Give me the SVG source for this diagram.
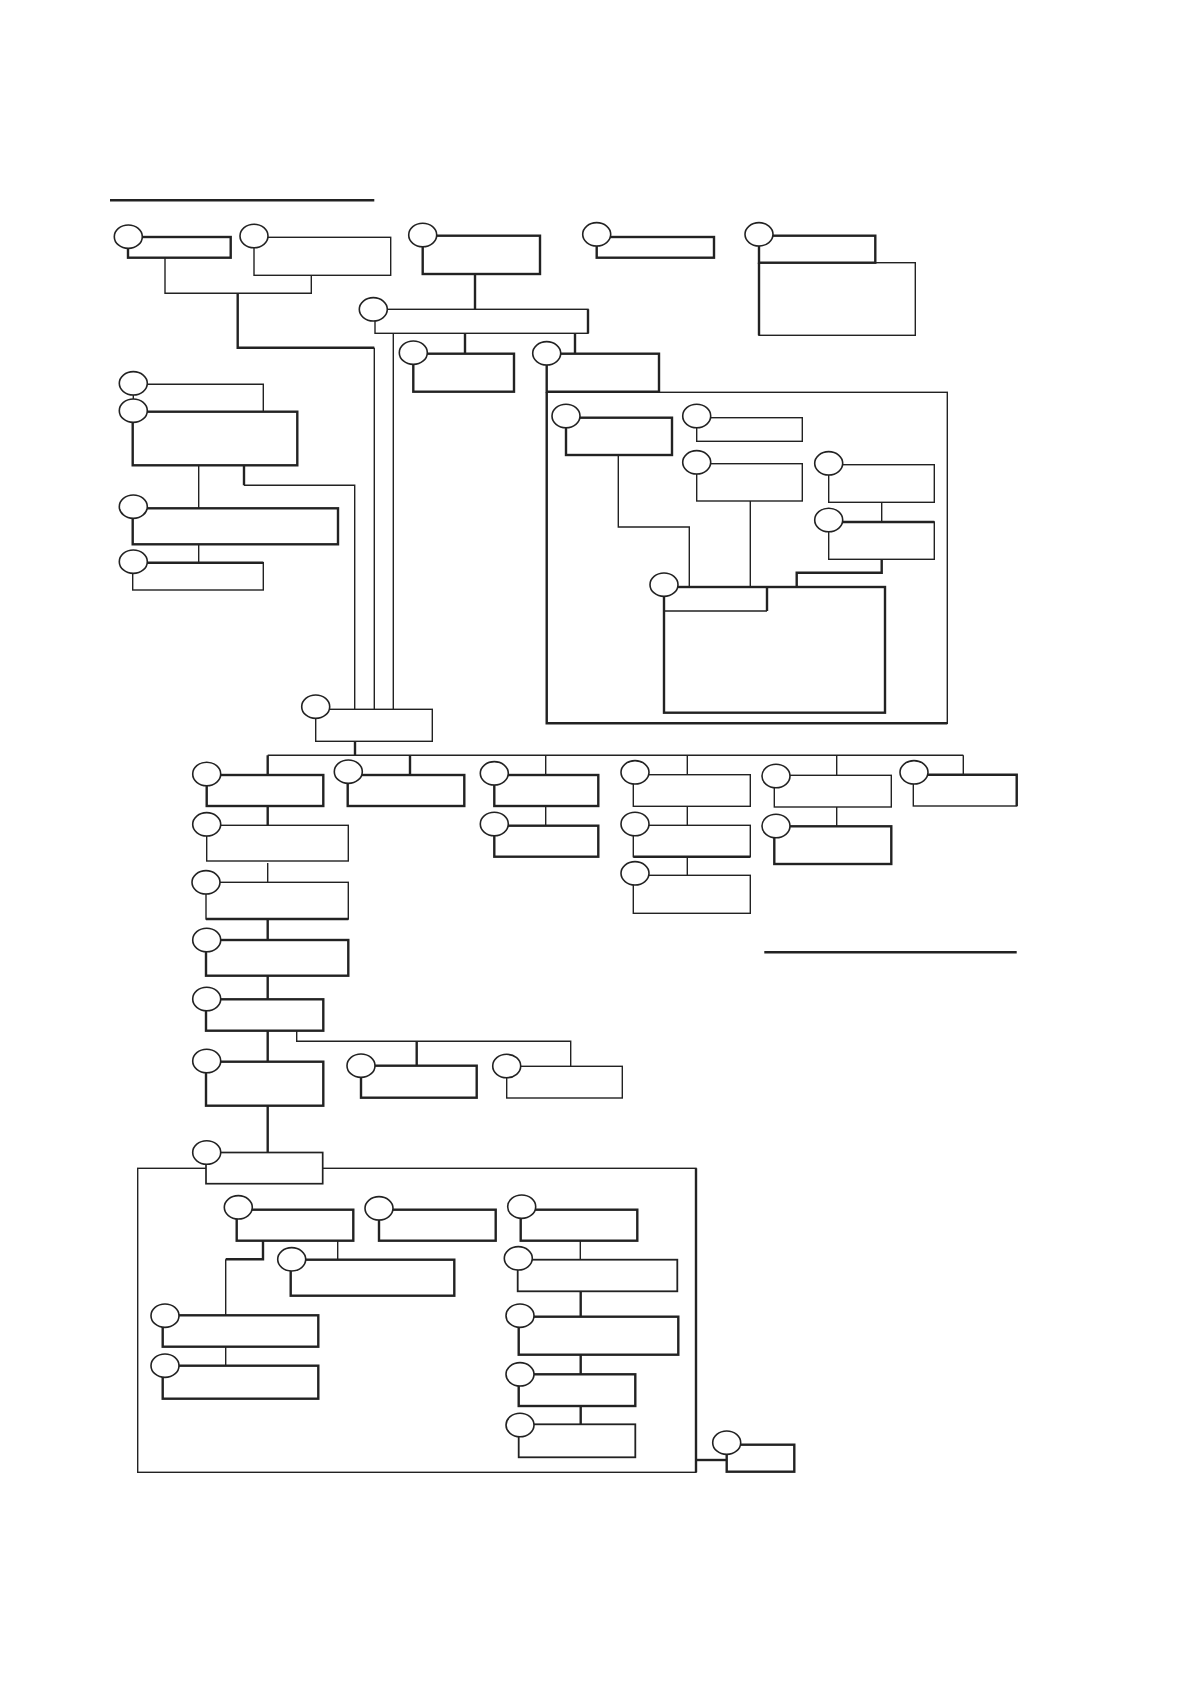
<svg xmlns="http://www.w3.org/2000/svg" width="1190" height="1684" viewBox="0 0 1190 1684">
<style>
.t{fill:none;stroke:#222;stroke-width:1.4}
.k{fill:none;stroke:#222;stroke-width:2.4}
rect.t,rect.k{fill:#fff}
ellipse{fill:#fff;stroke:#222;stroke-width:1.6}
</style>
<rect width="1190" height="1684" fill="#fff"/>
<g id="rules">
<line class="k" x1="110" y1="200.3" x2="374.3" y2="200.3"/>
<line class="k" x1="764.3" y1="952.3" x2="1016.7" y2="952.3"/>
</g>
<g id="containers">
<g id="container1"><rect class="t" x="546.7" y="392.3" width="400.6" height="331"/><polyline class="k" points="546.7,392.3 546.7,723.3 947.3,723.3"/></g>
<g id="container2"><rect class="t" x="137.7" y="1168.3" width="558.3" height="304"/><line class="k" x1="696" y1="1168.3" x2="696" y2="1472.3"/></g>
</g>
<g id="connectors">
<polyline class="t" points="165,258 165,293.3 311.3,293.3 311.3,275.3"/>
<polyline class="k" points="237.7,293.3 237.7,347.7 374.3,347.7"/>
<line class="t" x1="374.3" y1="347.7" x2="374.3" y2="709.3"/>
<line class="k" x1="475" y1="274" x2="475" y2="309.3"/>
<line class="t" x1="393.3" y1="333.3" x2="393.3" y2="709.3"/>
<line class="k" x1="465" y1="333.3" x2="465" y2="353.7"/>
<line class="k" x1="575" y1="333.3" x2="575" y2="353.7"/>
<polyline class="t" points="147,384.3 263.3,384.3 263.3,411.7"/>
<line class="t" x1="133.3" y1="394" x2="133.3" y2="400"/>
<line class="t" x1="198.7" y1="465.3" x2="198.7" y2="508.3"/>
<line class="k" x1="244" y1="465.3" x2="244" y2="485.3"/>
<polyline class="t" points="244,485.3 354.7,485.3 354.7,709.3"/>
<line class="t" x1="198.7" y1="544.3" x2="198.7" y2="562.7"/>
<polyline class="t" points="618.3,455 618.3,527 689.3,527 689.3,587"/>
<line class="t" x1="750.3" y1="501" x2="750.3" y2="587"/>
<line class="t" x1="881.7" y1="502.3" x2="881.7" y2="522"/>
<polyline class="k" points="881.7,559.3 881.7,572.7 796.7,572.7 796.7,587"/>
<line class="k" x1="355" y1="741.3" x2="355" y2="755.3"/>
<line class="t" x1="267.7" y1="755.3" x2="963.3" y2="755.3"/>
<line class="k" x1="267.7" y1="755.3" x2="267.7" y2="775"/>
<line class="k" x1="410" y1="755.3" x2="410" y2="775"/>
<line class="t" x1="545.7" y1="755.3" x2="545.7" y2="775"/>
<line class="t" x1="687.3" y1="755.3" x2="687.3" y2="774.7"/>
<line class="t" x1="836.7" y1="755.3" x2="836.7" y2="775.3"/>
<line class="t" x1="963.3" y1="755.3" x2="963.3" y2="774.7"/>
<line class="k" x1="267.7" y1="806" x2="267.7" y2="825.3"/>
<line class="t" x1="545.7" y1="806" x2="545.7" y2="825.7"/>
<line class="t" x1="267.7" y1="863" x2="267.7" y2="882.3"/>
<line class="k" x1="267.7" y1="919" x2="267.7" y2="940"/>
<line class="k" x1="267.7" y1="975.7" x2="267.7" y2="999.3"/>
<line class="k" x1="267.7" y1="1030.7" x2="267.7" y2="1061.7"/>
<line class="k" x1="267.7" y1="1105.7" x2="267.7" y2="1152.5"/>
<polyline class="t" points="296.7,1030.7 296.7,1041.3 570.7,1041.3 570.7,1066.3"/>
<line class="k" x1="416.7" y1="1041.3" x2="416.7" y2="1065.7"/>
<line class="t" x1="687.3" y1="806.3" x2="687.3" y2="825.3"/>
<line class="t" x1="687.3" y1="856.7" x2="687.3" y2="875.3"/>
<line class="t" x1="836.7" y1="807" x2="836.7" y2="826.3"/>
<line class="t" x1="337.7" y1="1240.7" x2="337.7" y2="1259.7"/>
<polyline class="k" points="263,1240.7 263,1259.3 225.7,1259.3"/>
<line class="t" x1="225.7" y1="1259.3" x2="225.7" y2="1315.3"/>
<line class="t" x1="225.7" y1="1346.7" x2="225.7" y2="1365.7"/>
<line class="t" x1="580.3" y1="1240.7" x2="580.3" y2="1259.7"/>
<line class="k" x1="580.7" y1="1291.3" x2="580.7" y2="1316.7"/>
<line class="k" x1="580.7" y1="1354.7" x2="580.7" y2="1374.3"/>
<line class="k" x1="580.7" y1="1406" x2="580.7" y2="1424.3"/>
<line class="k" x1="696" y1="1460" x2="726.7" y2="1460"/>
</g>
<g id="nA"><rect class="k" x="128" y="237" width="102.7" height="20.7"/><ellipse cx="128.3" cy="236.7" rx="14" ry="11.7"/></g>
<g id="nB"><rect class="t" x="254" y="237.3" width="136.7" height="38"/><ellipse cx="254" cy="236" rx="14" ry="11.7"/></g>
<g id="nC"><rect class="k" x="422.7" y="235.7" width="117.3" height="38.3"/><ellipse cx="422.7" cy="235" rx="14" ry="11.7"/></g>
<g id="nG"><rect class="k" x="596.7" y="237" width="117.3" height="20.7"/><ellipse cx="596.7" cy="234.3" rx="14" ry="11.7"/></g>
<g id="nH"><rect class="t" x="759" y="262.7" width="156.3" height="72.6"/><line class="k" x1="759" y1="262.7" x2="759" y2="335.3"/><rect class="k" x="759" y="235.7" width="116.3" height="27"/><ellipse cx="759" cy="234.3" rx="14" ry="11.7"/></g>
<g id="nD"><rect class="t" x="375" y="309.3" width="213" height="24"/><line class="k" x1="588" y1="309.3" x2="588" y2="333.3"/><ellipse cx="373.3" cy="309.3" rx="14" ry="11.7"/></g>
<g id="nE"><rect class="k" x="413.3" y="353.7" width="100.7" height="38"/><ellipse cx="413.3" cy="352.7" rx="14" ry="11.7"/></g>
<g id="nF"><rect class="k" x="546.7" y="353.7" width="112.3" height="38"/><ellipse cx="546.7" cy="353.3" rx="14" ry="11.7"/></g>
<g id="nO"><ellipse cx="133.3" cy="383.3" rx="14" ry="11.7"/></g>
<g id="nP"><rect class="k" x="132.7" y="411.7" width="164.6" height="53.6"/><ellipse cx="133.3" cy="410.7" rx="14" ry="11.7"/></g>
<g id="nQ"><rect class="k" x="132.7" y="508.3" width="205.3" height="36"/><ellipse cx="133.3" cy="506.7" rx="14" ry="11.7"/></g>
<g id="nS"><rect class="t" x="132.7" y="562.7" width="130.6" height="27.3"/><line class="k" x1="132.7" y1="562.7" x2="263.3" y2="562.7"/><ellipse cx="133.3" cy="561.7" rx="14" ry="11.7"/></g>
<g id="nI"><rect class="k" x="566" y="417.7" width="106" height="37.3"/><ellipse cx="566" cy="416" rx="14" ry="11.7"/></g>
<g id="nJ"><rect class="t" x="696.7" y="417.7" width="105.6" height="23.6"/><ellipse cx="696.7" cy="416" rx="14" ry="11.7"/></g>
<g id="nK"><rect class="t" x="696.7" y="463.7" width="105.6" height="37.3"/><ellipse cx="696.7" cy="462.3" rx="14" ry="11.7"/></g>
<g id="nL"><rect class="t" x="828.7" y="464.7" width="105.6" height="37.6"/><ellipse cx="828.7" cy="463.3" rx="14" ry="11.7"/></g>
<g id="nM"><rect class="t" x="828.7" y="522" width="105.6" height="37.3"/><line class="k" x1="828.7" y1="522" x2="934.3" y2="522"/><ellipse cx="828.7" cy="520" rx="14" ry="11.7"/></g>
<g id="nN"><rect class="k" x="664" y="587" width="221" height="125.7"/><polyline class="t" points="664,587 664,611 767,611"/><line class="k" x1="767" y1="587" x2="767" y2="611"/><ellipse cx="664" cy="584.7" rx="14" ry="11.7"/></g>
<g id="nR"><rect class="t" x="315.7" y="709.3" width="116.6" height="32"/><ellipse cx="315.7" cy="706.7" rx="14" ry="11.7"/></g>
<g id="nT1"><rect class="k" x="206.7" y="775" width="116.6" height="31"/><ellipse cx="206.7" cy="774" rx="14" ry="11.7"/></g>
<g id="nT2"><rect class="k" x="347.7" y="775" width="116.6" height="31"/><ellipse cx="348.3" cy="771.7" rx="14" ry="11.7"/></g>
<g id="nT3"><rect class="k" x="494.3" y="775" width="104" height="31"/><ellipse cx="494.3" cy="773.3" rx="14" ry="11.7"/></g>
<g id="nT3b"><rect class="k" x="494.3" y="825.7" width="104" height="31"/><ellipse cx="494.3" cy="824" rx="14" ry="11.7"/></g>
<g id="nV1"><rect class="t" x="633.3" y="774.7" width="117" height="31.6"/><ellipse cx="635" cy="772.3" rx="14" ry="11.7"/></g>
<g id="nV2"><rect class="t" x="633.3" y="825.3" width="117" height="31.4"/><line class="k" x1="633.3" y1="856.7" x2="750.3" y2="856.7"/><ellipse cx="635" cy="824" rx="14" ry="11.7"/></g>
<g id="nV3"><rect class="t" x="633.3" y="875.3" width="117" height="38"/><ellipse cx="635" cy="873.3" rx="14" ry="11.7"/></g>
<g id="nW1"><rect class="t" x="774.3" y="775.3" width="117" height="31.7"/><ellipse cx="776" cy="776" rx="14" ry="11.7"/></g>
<g id="nW2"><rect class="k" x="774.3" y="826.3" width="117" height="37.7"/><ellipse cx="776" cy="826" rx="14" ry="11.7"/></g>
<g id="nX1"><rect class="t" x="913.3" y="774.7" width="103.4" height="31.3"/><polyline class="k" points="913.3,774.7 1016.7,774.7 1016.7,806"/><ellipse cx="914" cy="772.3" rx="14" ry="11.7"/></g>
<g id="nU1"><rect class="t" x="206.7" y="825.3" width="141.6" height="35.7"/><ellipse cx="206.7" cy="824.3" rx="14" ry="11.7"/></g>
<g id="nU2"><rect class="t" x="206" y="882.3" width="142.3" height="36.7"/><line class="k" x1="206" y1="919" x2="348.3" y2="919"/><ellipse cx="206" cy="882.3" rx="14" ry="11.7"/></g>
<g id="nU3"><rect class="k" x="206" y="940" width="142.3" height="35.7"/><ellipse cx="206.7" cy="940" rx="14" ry="11.7"/></g>
<g id="nU4"><rect class="k" x="206" y="999.3" width="117.3" height="31.4"/><ellipse cx="206.7" cy="999" rx="14" ry="11.7"/></g>
<g id="nU5"><rect class="k" x="206" y="1061.7" width="117.3" height="44"/><ellipse cx="206.7" cy="1061" rx="14" ry="11.7"/></g>
<g id="nY1"><rect class="k" x="361" y="1065.7" width="115.7" height="32"/><ellipse cx="361" cy="1065.7" rx="14" ry="11.7"/></g>
<g id="nY2"><rect class="t" x="506.7" y="1066.3" width="115.6" height="31.7"/><ellipse cx="506.7" cy="1066" rx="14" ry="11.7"/></g>
<g id="nU6"><rect class="t" x="206" y="1152.5" width="116.7" height="31.2" style="stroke-width:1.7"/><ellipse cx="206.7" cy="1152.5" rx="14" ry="11.7"/></g>
<g id="nZ1"><rect class="k" x="236.7" y="1209.7" width="116.6" height="31"/><ellipse cx="238.3" cy="1207.3" rx="14" ry="11.7"/></g>
<g id="nZ2"><rect class="k" x="379" y="1209.7" width="116.7" height="31"/><ellipse cx="379" cy="1208.3" rx="14" ry="11.7"/></g>
<g id="nZ3"><rect class="k" x="290.7" y="1259.7" width="163.6" height="36"/><ellipse cx="291.7" cy="1259.3" rx="14" ry="11.7"/></g>
<g id="nZ4"><rect class="k" x="162.7" y="1315.3" width="155.6" height="31.4"/><ellipse cx="165" cy="1315.7" rx="14" ry="11.7"/></g>
<g id="nZ5"><rect class="k" x="162.7" y="1365.7" width="155.6" height="33"/><ellipse cx="165" cy="1365.7" rx="14" ry="11.7"/></g>
<g id="nAA1"><rect class="k" x="520.7" y="1209.7" width="116.6" height="31"/><ellipse cx="521.7" cy="1206.7" rx="14" ry="11.7"/></g>
<g id="nAA2"><rect class="t" x="517.7" y="1259.7" width="159.6" height="31.6" style="stroke-width:1.8"/><ellipse cx="518.3" cy="1258.3" rx="14" ry="11.7"/></g>
<g id="nAA3"><rect class="k" x="518.7" y="1316.7" width="159.6" height="38"/><ellipse cx="520" cy="1315.7" rx="14" ry="11.7"/></g>
<g id="nAA4"><rect class="k" x="518.7" y="1374.3" width="116.6" height="31.7"/><ellipse cx="520" cy="1374.3" rx="14" ry="11.7"/></g>
<g id="nAA5"><rect class="t" x="518.7" y="1424.3" width="116.6" height="33" style="stroke-width:1.8"/><ellipse cx="520" cy="1425" rx="14" ry="11.7"/></g>
<g id="nBB"><rect class="k" x="726.7" y="1444.7" width="67.6" height="27"/><ellipse cx="726.7" cy="1442.7" rx="14" ry="11.7"/></g>
</svg>
